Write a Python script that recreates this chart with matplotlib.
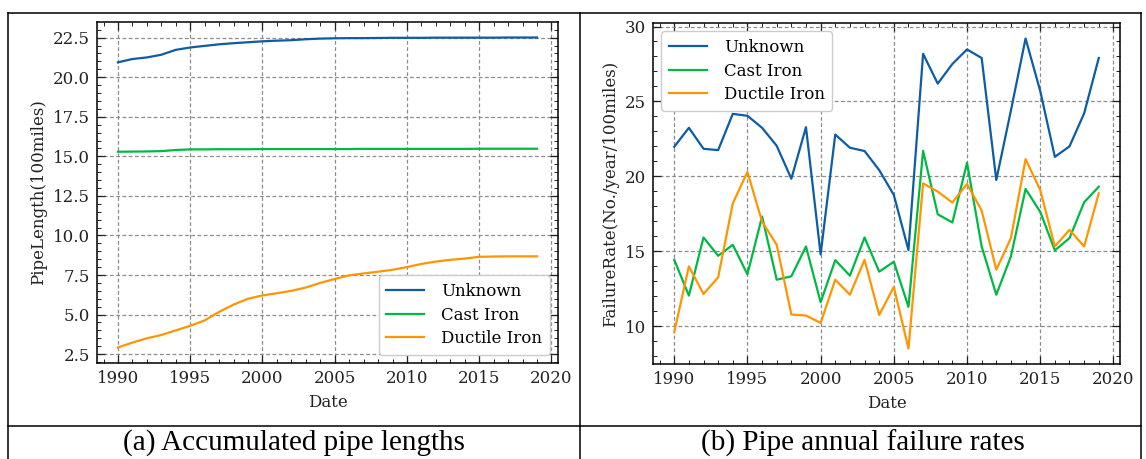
import matplotlib
matplotlib.use("Agg")
import matplotlib.pyplot as plt
from matplotlib.lines import Line2D
from matplotlib.ticker import MultipleLocator

years = list(range(1990, 2020))
labels = ["Unknown", "Cast Iron", "Ductile Iron"]
colors = ["#0C5DA5", "#00B945", "#FF9500"]

# (a) accumulated pipe length, 100 miles
length_unknown = [20.94, 21.15, 21.25, 21.42, 21.73, 21.88, 21.98, 22.08, 22.15, 22.21,
                  22.27, 22.31, 22.34, 22.40, 22.44, 22.46, 22.47, 22.47, 22.48, 22.49,
                  22.49, 22.49, 22.50, 22.50, 22.50, 22.50, 22.50, 22.51, 22.51, 22.51]
length_cast = [15.29, 15.30, 15.31, 15.33, 15.40, 15.44, 15.44, 15.45, 15.45, 15.45,
               15.46, 15.46, 15.46, 15.46, 15.46, 15.46, 15.46, 15.47, 15.47, 15.47,
               15.47, 15.47, 15.47, 15.47, 15.47, 15.48, 15.48, 15.48, 15.48, 15.48]
length_ductile = [2.92, 3.23, 3.50, 3.71, 4.00, 4.29, 4.63, 5.17, 5.63, 6.00,
                  6.21, 6.35, 6.50, 6.71, 7.00, 7.25, 7.48, 7.60, 7.71, 7.83,
                  8.00, 8.20, 8.35, 8.46, 8.54, 8.65, 8.67, 8.68, 8.68, 8.68]

# (b) annual failure rate, No./year/100 miles
rate_unknown = [21.97, 23.24, 21.84, 21.75, 24.17, 24.04, 23.24, 22.04, 19.84, 23.28,
                14.79, 22.79, 21.91, 21.69, 20.42, 18.76, 15.08, 28.18, 26.19, 27.50,
                28.47, 27.90, 19.76, 24.40, 29.20, 25.70, 21.30, 22.00, 24.20, 27.90]
rate_cast = [14.43, 12.04, 15.92, 14.70, 15.43, 13.46, 17.32, 13.10, 13.33, 15.32,
             11.60, 14.41, 13.37, 15.92, 13.64, 14.30, 11.29, 21.70, 17.47, 16.92,
             20.90, 15.32, 12.10, 14.66, 19.16, 17.63, 15.06, 15.88, 18.27, 19.31]
rate_ductile = [9.60, 13.99, 12.15, 13.26, 18.20, 20.29, 16.98, 15.43, 10.78, 10.71,
                10.22, 13.10, 12.10, 14.43, 10.75, 12.62, 8.51, 19.53, 18.98, 18.25,
                19.49, 17.72, 13.77, 15.88, 21.15, 19.09, 15.32, 16.43, 15.32, 18.87]

plt.rcParams.update({
    "font.family": "DejaVu Serif",
    "font.size": 12,
    "axes.linewidth": 1.1,
    "xtick.direction": "in",
    "ytick.direction": "in",
    "xtick.top": True,
    "ytick.right": True,
    "xtick.major.size": 5.5,
    "ytick.major.size": 5.5,
    "xtick.minor.size": 3,
    "ytick.minor.size": 3,
    "xtick.major.width": 0.9,
    "ytick.major.width": 0.9,
    "xtick.minor.width": 0.7,
    "ytick.minor.width": 0.7,
    "xtick.color": "#222222",
    "ytick.color": "#222222",
})

W, H = 1146, 459
fig = plt.figure(figsize=(W / 100, H / 100), dpi=100)


def px_axes(x0, y0, x1, y1):
    return fig.add_axes([x0 / W, 1 - y1 / H, (x1 - x0) / W, (y1 - y0) / H])


def style(ax, ystep):
    ax.xaxis.set_major_locator(MultipleLocator(5))
    ax.xaxis.set_minor_locator(MultipleLocator(1))
    ax.yaxis.set_minor_locator(MultipleLocator(ystep))
    ax.grid(True, which="major", linestyle=(0, (3, 2)), color="#8c8c8c", linewidth=0.9)
    ax.set_axisbelow(True)
    ax.tick_params(which="both", pad=5)
    ax.set_xlabel("Date", labelpad=5, color="#222222")


def add_legend(ax, loc):
    ax.legend(loc=loc, fontsize=12, frameon=True, fancybox=True,
              edgecolor="#cccccc", framealpha=1, handlelength=2.3,
              handletextpad=1.0, borderpad=0.45, labelspacing=0.4)


ax1 = px_axes(97, 22, 558, 363)
for vals, lab, c in zip([length_unknown, length_cast, length_ductile], labels, colors):
    ax1.plot(years, vals, color=c, lw=1.6, label=lab)
ax1.yaxis.set_major_locator(MultipleLocator(2.5))
ax1.yaxis.set_major_formatter(matplotlib.ticker.FormatStrFormatter("%.1f"))
style(ax1, 0.5)
ax1.set_ylabel("PipeLength(100miles)", color="#222222")
add_legend(ax1, "lower right")

ax2 = px_axes(653, 23, 1120, 364)
for vals, lab, c in zip([rate_unknown, rate_cast, rate_ductile], labels, colors):
    ax2.plot(years, vals, color=c, lw=1.6, label=lab)
ax2.yaxis.set_major_locator(MultipleLocator(5))
style(ax2, 1)
ax2.set_ylabel("FailureRate(No./year/100miles)", color="#222222")
add_legend(ax2, "upper left")


# table frame around the two panels
def px_line(xs, ys):
    fig.add_artist(Line2D([x / W for x in xs], [1 - y / H for y in ys],
                          transform=fig.transFigure, color="black", lw=1.1))


px_line([8, 1141], [13, 13])
px_line([8, 8], [13, H + 2])
px_line([1141, 1141], [13, H + 2])
px_line([580, 580], [13, H + 2])
px_line([8, 1141], [426, 426])

fig.text(294 / W, 1 - 443 / H, "(a) Accumulated pipe lengths", ha="center", va="center",
         fontsize=21, family="Liberation Serif")
fig.text(863 / W, 1 - 443 / H, "(b) Pipe annual failure rates", ha="center", va="center",
         fontsize=21, family="Liberation Serif")

fig.savefig("out.png", dpi=100)
